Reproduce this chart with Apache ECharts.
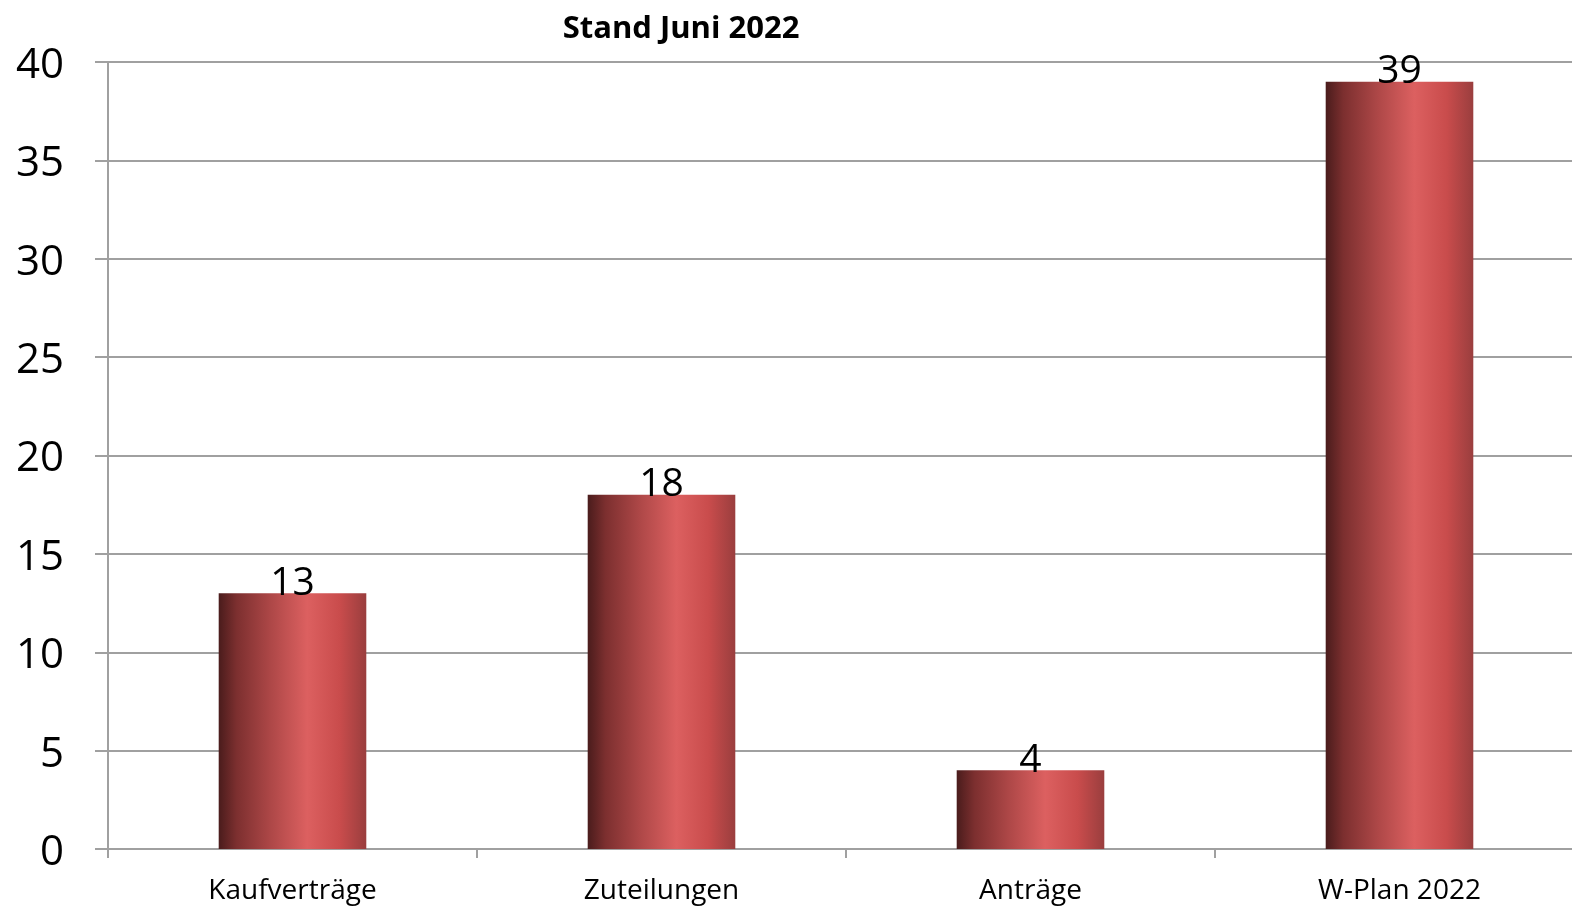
<!DOCTYPE html>
<html><head><meta charset="utf-8">
<script src="https://cdn.jsdelivr.net/npm/echarts@6/dist/echarts.min.js"></script>
<style>html,body{margin:0;padding:0;background:#fff;overflow:hidden;width:1572px;height:908px}#c{width:1584px;height:908px}</style>
</head><body><div id="c"></div>
<script>
const categories = ["Kaufverträge", "Zuteilungen", "Anträge", "W-Plan 2022"];
const values = [13, 18, 4, 39];
const titleText = "Stand Juni 2022";
const FONT = "'Open Sans', 'Noto Sans', sans-serif";

const chart = echarts.init(document.getElementById('c'), null, {renderer: 'canvas'});
chart.setOption({
  animation: false,
  title: {
    text: titleText, left: 676, top: 9, textAlign: 'center',
    textStyle: {fontFamily: FONT, fontWeight: 'bold', fontSize: 31, color: '#000'}
  },
  grid: {left: 108, right: 0, top: 62, bottom: 59, containLabel: false},
  xAxis: {
    type: 'category', data: categories,
    axisLine: {lineStyle: {color: '#a0a0a0', width: 2}},
    axisTick: {show: true, length: 9, lineStyle: {color: '#a0a0a0', width: 2}},
    axisLabel: {fontFamily: FONT, fontSize: 28, color: '#000', margin: 28}
  },
  yAxis: {
    type: 'value', min: 0, max: 40, interval: 5,
    axisLine: {show: true, lineStyle: {color: '#a0a0a0', width: 2}},
    axisTick: {show: true, inside: false, length: 13, lineStyle: {color: '#a0a0a0', width: 2}},
    splitLine: {lineStyle: {color: '#a0a0a0', width: 2}},
    axisLabel: {
      fontFamily: FONT, fontSize: 42, color: '#000', margin: 44,
      formatter: '{a|{value}}',
      rich: {a: {fontFamily: FONT, fontSize: 42, color: '#000', padding: [8, 0, 0, 0]}}
    }
  },
  series: [{
    type: 'bar', data: values, barCategoryGap: '60%',
    itemStyle: {
      color: new echarts.graphic.LinearGradient(0, 0, 1, 0, [
        {offset: 0, color: '#4a1c1c'},
        {offset: 0.12, color: '#7c2f2f'},
        {offset: 0.35, color: '#ad4747'},
        {offset: 0.6, color: '#dc6060'},
        {offset: 0.82, color: '#c94c4c'},
        {offset: 1, color: '#9a3e3e'}
      ])
    },
    label: {
      show: true, position: 'top', distance: -10,
      fontFamily: FONT, fontSize: 39, color: '#000'
    }
  }]
});
</script></body></html>
